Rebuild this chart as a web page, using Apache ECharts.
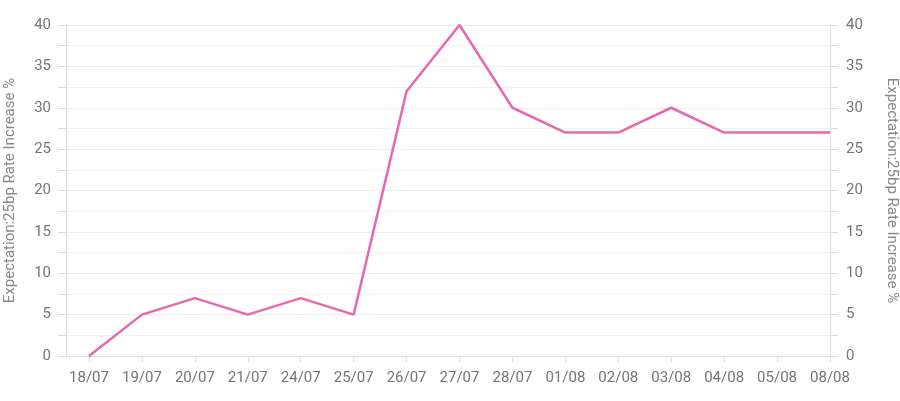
<!DOCTYPE html>
<html>
<head>
<meta charset="utf-8">
<script src="https://cdn.jsdelivr.net/npm/echarts@6/dist/echarts.min.js"></script>
<style>
  html, body { margin: 0; padding: 0; background: #fff; }
  #chart { width: 900px; height: 401px; }
</style>
</head>
<body>
<div id="chart"></div>
<script>
const dates = ['18/07', '19/07', '20/07', '21/07', '24/07', '25/07', '26/07', '27/07',
    '28/07', '01/08', '02/08', '03/08', '04/08', '05/08', '08/08'];
const expectation = [0, 5, 7, 5, 7, 5, 32, 40, 30, 27, 27, 30, 27, 27, 27];
const yTicks = [0, 5, 10, 15, 20, 25, 30, 35, 40];

const axisName = 'Expectation:25bp Rate Increase %';
const positions = dates.map((d, i) => i);

const labelStyle = {
    color: '#757575',
    fontSize: 15,
    fontFamily: 'Roboto'
};

function yAxisFor(side) {
    return {
        type: 'value',
        position: side,
        min: yTicks[0],
        max: yTicks[yTicks.length - 1],
        interval: 5,
        name: axisName,
        nameLocation: 'middle',
        nameGap: side === 'left' ? 48 : 54,
        nameRotate: side === 'left' ? 90 : -90,
        nameTextStyle: {
            color: '#888',
            fontSize: 15,
            fontFamily: 'Roboto'
        },
        axisLine: { show: true, onZero: false, lineStyle: { color: '#ddd' } },
        axisTick: { show: true, length: 8, lineStyle: { color: '#ddd' } },
        minorTick: { show: true, splitNumber: 2, length: 8, lineStyle: { color: '#ddd' } },
        axisLabel: Object.assign({ margin: side === 'left' ? 15 : 16 }, labelStyle),
        splitLine: { show: side === 'left', lineStyle: { color: '#eee' } },
        minorSplitLine: { show: side === 'left', lineStyle: { color: '#f2f2f2' } }
    };
}

let option = {
    animation: false,
    grid: {
        left: 66,
        right: 70,
        top: 25,
        bottom: 45,
        containLabel: false,
        outerBoundsMode: 'none'
    },
    xAxis: {
        type: 'value',
        min: -0.435,
        max: dates.length - 1,
        axisLine: { show: true, onZero: false, lineStyle: { color: '#ddd' } },
        axisTick: {
            show: true,
            length: 7,
            customValues: positions,
            lineStyle: { color: '#ddd' }
        },
        axisLabel: Object.assign({
            margin: 15,
            customValues: positions,
            formatter: v => dates[Math.round(v)]
        }, labelStyle),
        splitLine: { show: false }
    },
    yAxis: [yAxisFor('left'), yAxisFor('right')],
    series: [{
        name: 'expectation',
        type: 'line',
        showSymbol: false,
        lineStyle: { color: '#e868b0', width: 2.5 },
        itemStyle: { color: '#e868b0' },
        data: expectation.map((v, i) => [i, v])
    }]
};

let myChart = echarts.init(document.getElementById('chart'));
myChart.setOption(option);
</script>
</body>
</html>
